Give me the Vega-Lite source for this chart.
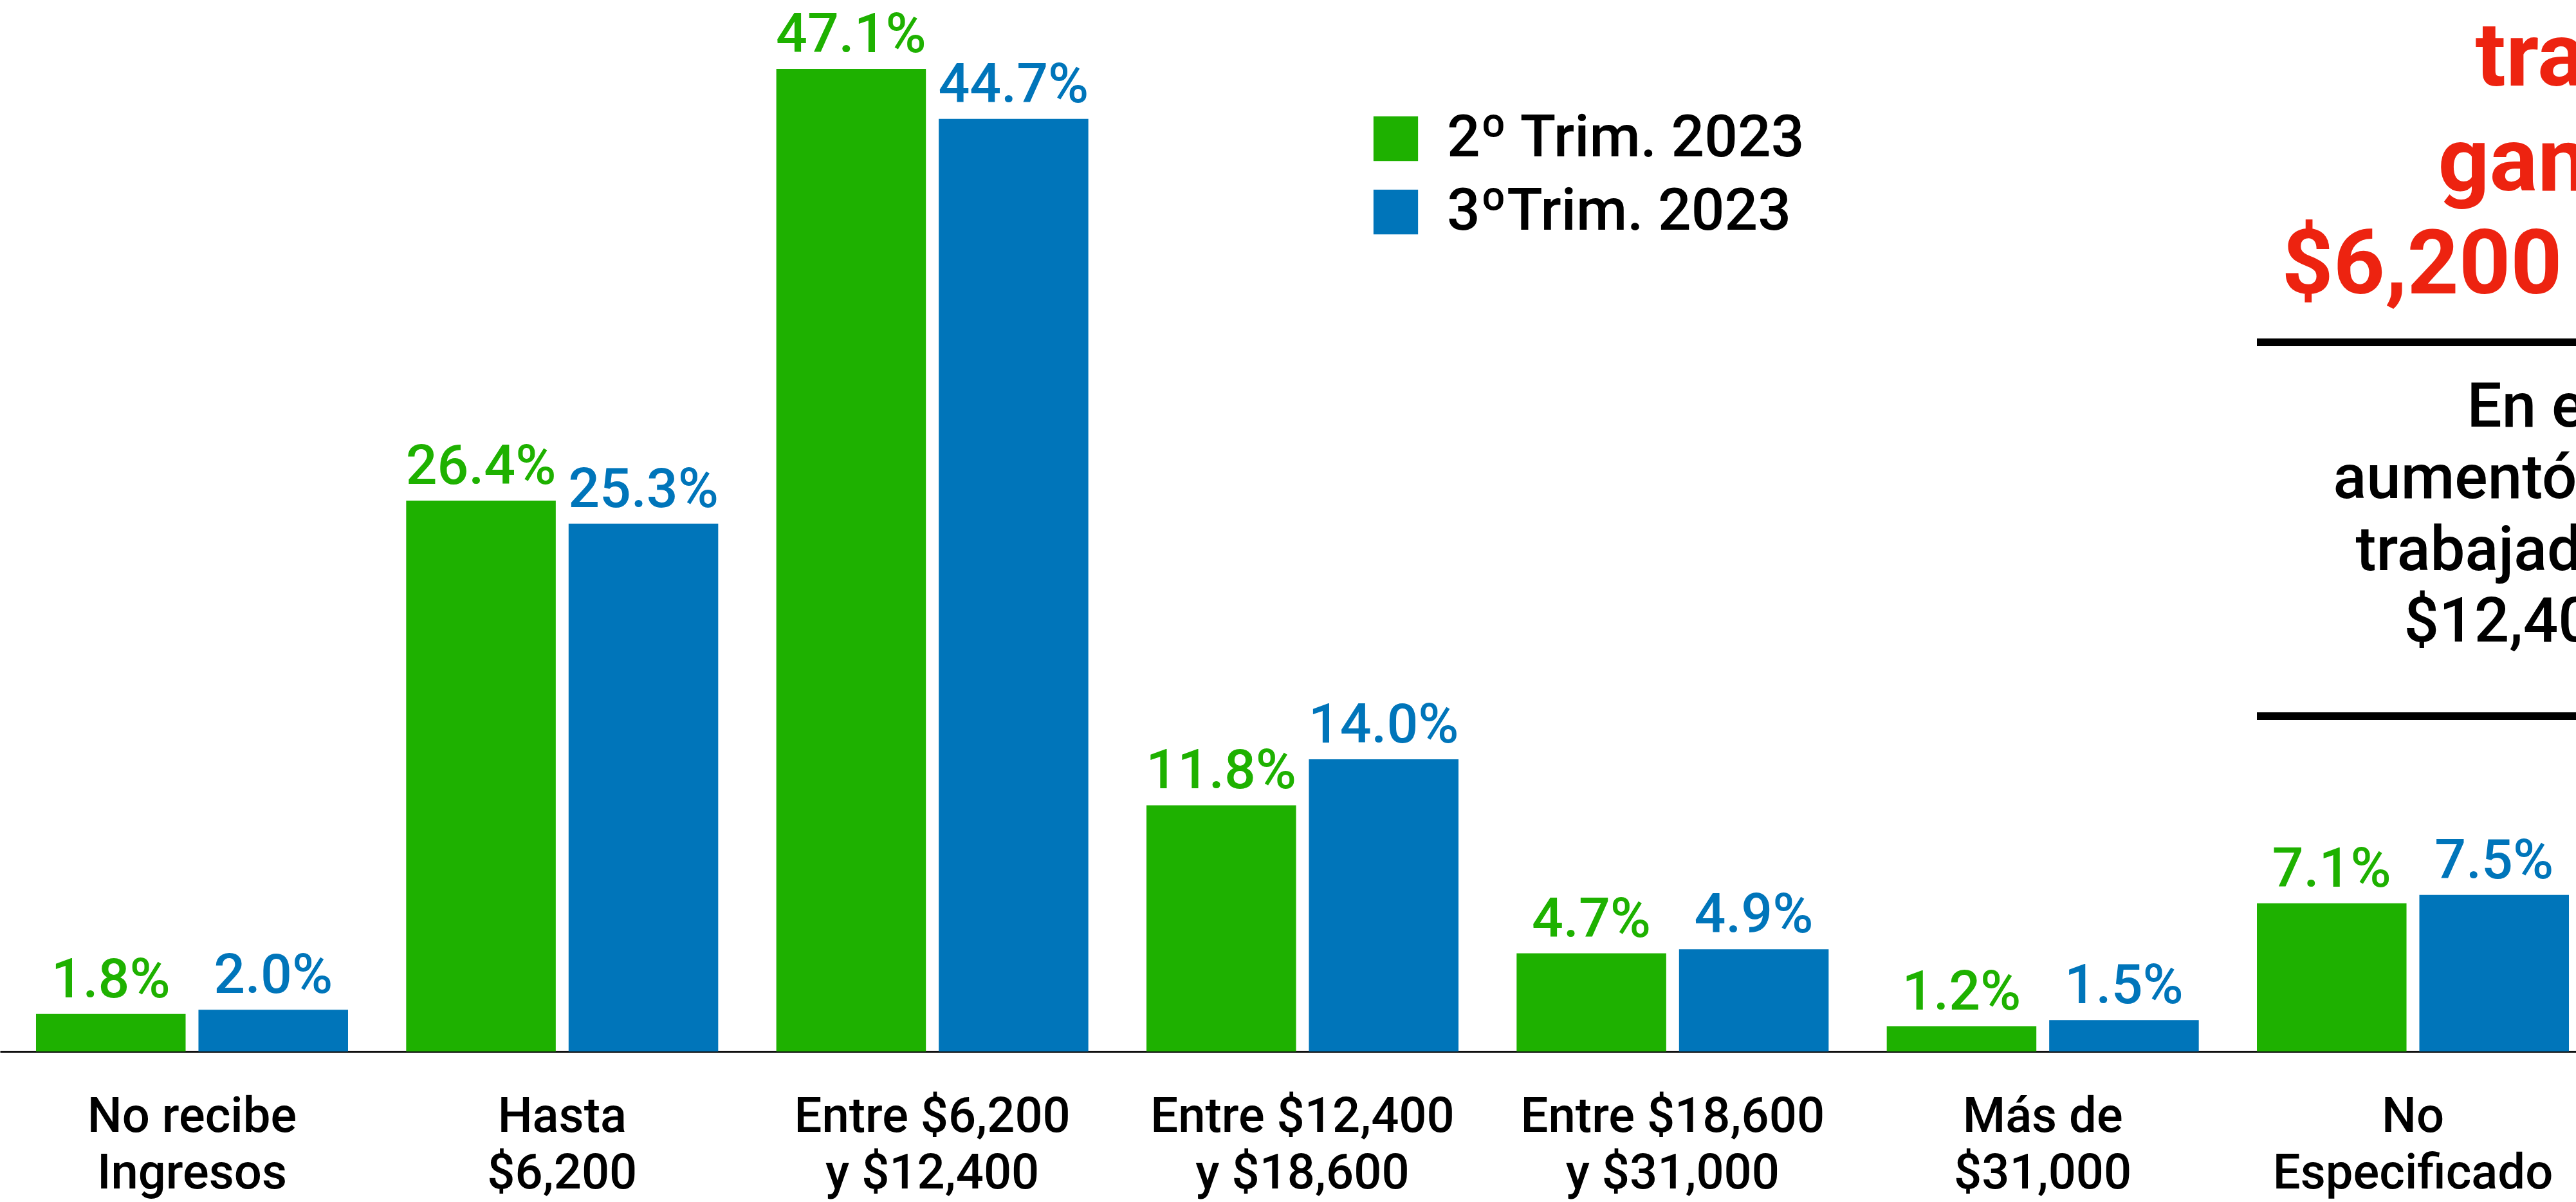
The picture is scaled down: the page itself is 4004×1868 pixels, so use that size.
{
  "$schema": "https://vega.github.io/schema/vega-lite/v6.json",
  "width": 4004,
  "height": 1634,
  "autosize": {"type": "none"},
  "padding": {"left": 0, "top": 0, "right": 0, "bottom": 234},
  "background": "white",
  "config": {
    "view": {"stroke": null},
    "font": "Roboto",
    "axisX": {
      "title": null,
      "ticks": false,
      "grid": false,
      "domain": true,
      "domainColor": "#111111",
      "domainWidth": 3,
      "labelFont": "Roboto",
      "labelFontSize": 76,
      "labelFontWeight": 500,
      "labelColor": "#000000",
      "labelAngle": 0,
      "labelBaseline": "top",
      "labelPadding": 64,
      "labelLineHeight": 88,
      "labelLimit": 0,
      "labelOverlap": false,
      "labelExpr": "split(datum.label, '\\n')"
    }
  },
  "datasets": {
    "ingresos": [
      {"rango": "No recibe\nIngresos", "serie": "2º Trim. 2023", "pct": 0.018},
      {"rango": "No recibe\nIngresos", "serie": "3ºTrim. 2023", "pct": 0.020},
      {"rango": "Hasta\n$6,200", "serie": "2º Trim. 2023", "pct": 0.264},
      {"rango": "Hasta\n$6,200", "serie": "3ºTrim. 2023", "pct": 0.253},
      {"rango": "Entre $6,200\ny $12,400", "serie": "2º Trim. 2023", "pct": 0.471},
      {"rango": "Entre $6,200\ny $12,400", "serie": "3ºTrim. 2023", "pct": 0.447},
      {"rango": "Entre $12,400\ny $18,600", "serie": "2º Trim. 2023", "pct": 0.118},
      {"rango": "Entre $12,400\ny $18,600", "serie": "3ºTrim. 2023", "pct": 0.140},
      {"rango": "Entre $18,600\ny $31,000", "serie": "2º Trim. 2023", "pct": 0.047},
      {"rango": "Entre $18,600\ny $31,000", "serie": "3ºTrim. 2023", "pct": 0.049},
      {"rango": "Más de\n$31,000", "serie": "2º Trim. 2023", "pct": 0.012},
      {"rango": "Más de\n$31,000", "serie": "3ºTrim. 2023", "pct": 0.015},
      {"rango": "No\nEspecificado", "serie": "2º Trim. 2023", "pct": 0.071},
      {"rango": "No\nEspecificado", "serie": "3ºTrim. 2023", "pct": 0.075}
    ]
  },
  "layer": [
    {
      "data": {"name": "ingresos"},
      "mark": {"type": "bar"},
      "encoding": {
        "x": {
          "field": "rango", "type": "nominal", "sort": null, "title": null,
          "scale": {"type": "band", "paddingInner": 0.157, "paddingOuter": 0.0582, "align": 0.836}
        },
        "xOffset": {
          "field": "serie", "type": "nominal", "sort": null,
          "scale": {"paddingInner": 0.079, "paddingOuter": 0}
        },
        "y": {
          "field": "pct", "type": "quantitative", "axis": null,
          "scale": {"domain": [0, 0.504], "nice": false, "zero": true}
        },
        "color": {
          "field": "serie", "type": "nominal", "sort": null,
          "scale": {"domain": ["2º Trim. 2023", "3ºTrim. 2023"], "range": ["#1EB100", "#0075BA"]},
          "legend": {
            "orient": "none", "legendX": 2124, "legendY": 170,
            "title": null, "symbolType": "square", "symbolSize": 4800,
            "symbolStrokeWidth": 0, "symbolOpacity": 1,
            "labelFont": "Roboto", "labelFontSize": 91, "labelFontWeight": 500,
            "labelColor": "#000000", "labelOffset": 34, "rowPadding": 22,
            "padding": 0, "labelLimit": 0
          }
        }
      }
    },
    {
      "data": {"name": "ingresos"},
      "mark": {"type": "text", "baseline": "alphabetic", "align": "center", "dy": -26, "fontSize": 86, "fontWeight": 500, "font": "Roboto"},
      "encoding": {
        "x": {"field": "rango", "type": "nominal", "sort": null, "title": null},
        "xOffset": {"field": "serie", "type": "nominal", "sort": null},
        "y": {"field": "pct", "type": "quantitative", "axis": null},
        "text": {"field": "pct", "type": "quantitative", "format": ".1%"},
        "color": {"field": "serie", "type": "nominal", "sort": null, "legend": null}
      }
    },
    {
      "data": {"values": [{"t": "tra"}]},
      "mark": {"type": "text", "align": "left", "baseline": "alphabetic", "dx": 97, "fontSize": 140, "fontWeight": 700, "color": "#ED2310", "clip": true},
      "encoding": {"x": {"datum": "No\nEspecificado", "title": null}, "y": {"datum": 0.463, "axis": null}, "text": {"field": "t"}}
    },
    {
      "data": {"values": [{"t": "gan"}]},
      "mark": {"type": "text", "align": "left", "baseline": "alphabetic", "dx": 39, "fontSize": 140, "fontWeight": 700, "color": "#ED2310", "clip": true},
      "encoding": {"x": {"datum": "No\nEspecificado", "title": null}, "y": {"datum": 0.4127, "axis": null}, "text": {"field": "t"}}
    },
    {
      "data": {"values": [{"t": "$6,200"}]},
      "mark": {"type": "text", "align": "left", "baseline": "alphabetic", "dx": -204, "fontSize": 140, "fontWeight": 700, "color": "#ED2310", "clip": true},
      "encoding": {"x": {"datum": "No\nEspecificado", "title": null}, "y": {"datum": 0.3634, "axis": null}, "text": {"field": "t"}}
    },
    {
      "data": {"values": [{"t": "En e"}]},
      "mark": {"type": "text", "align": "left", "baseline": "alphabetic", "dx": 84, "fontSize": 96, "fontWeight": 500, "color": "#000000", "clip": true},
      "encoding": {"x": {"datum": "No\nEspecificado", "title": null}, "y": {"datum": 0.2995, "axis": null}, "text": {"field": "t"}}
    },
    {
      "data": {"values": [{"t": "aumentó"}]},
      "mark": {"type": "text", "align": "left", "baseline": "alphabetic", "dx": -124, "fontSize": 96, "fontWeight": 500, "color": "#000000", "clip": true},
      "encoding": {"x": {"datum": "No\nEspecificado", "title": null}, "y": {"datum": 0.2653, "axis": null}, "text": {"field": "t"}}
    },
    {
      "data": {"values": [{"t": "trabajad"}]},
      "mark": {"type": "text", "align": "left", "baseline": "alphabetic", "dx": -89, "fontSize": 96, "fontWeight": 500, "color": "#000000", "clip": true},
      "encoding": {"x": {"datum": "No\nEspecificado", "title": null}, "y": {"datum": 0.2307, "axis": null}, "text": {"field": "t"}}
    },
    {
      "data": {"values": [{"t": "$12,40"}]},
      "mark": {"type": "text", "align": "left", "baseline": "alphabetic", "dx": -14, "fontSize": 96, "fontWeight": 500, "color": "#000000", "clip": true},
      "encoding": {"x": {"datum": "No\nEspecificado", "title": null}, "y": {"datum": 0.1965, "axis": null}, "text": {"field": "t"}}
    },
    {
      "data": {"values": [{"linea": 1}]},
      "mark": {"type": "rule", "strokeWidth": 12, "color": "#000000"},
      "encoding": {"x": {"datum": "No\nEspecificado", "bandPosition": 0, "title": null}, "x2": {"value": "width"}, "y": {"datum": 0.3399, "axis": null}}
    },
    {
      "data": {"values": [{"linea": 2}]},
      "mark": {"type": "rule", "strokeWidth": 12, "color": "#000000"},
      "encoding": {"x": {"datum": "No\nEspecificado", "bandPosition": 0, "title": null}, "x2": {"value": "width"}, "y": {"datum": 0.1607, "axis": null}}
    }
  ]
}
